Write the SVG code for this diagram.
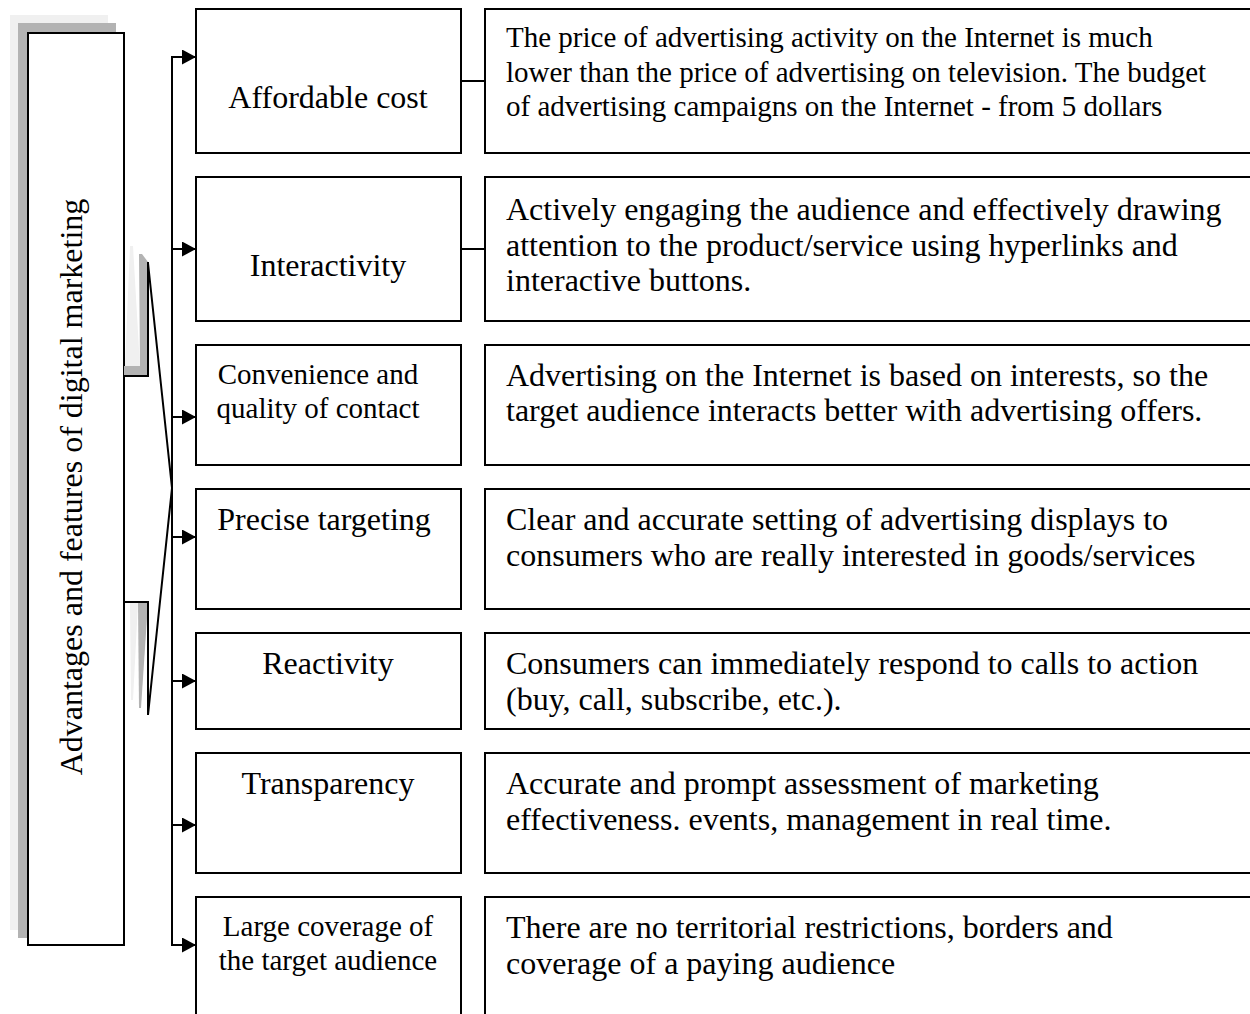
<svg xmlns="http://www.w3.org/2000/svg" width="1250" height="1014" viewBox="0 0 1250 1014">
  <style>
    .box { fill: #ffffff; stroke: #000000; stroke-width: 2; }
    .line { fill: none; stroke: #000000; stroke-width: 2; }
    .t { font-family: "Liberation Serif", "Times New Roman", serif; fill: #000000; }
    .lbl { font-size: 32px; text-anchor: middle; }
    .lbl-s { font-size: 29px; text-anchor: middle; }
    .desc { font-size: 32px; }
    .desc-s { font-size: 29px; }
  </style>
  <defs>
    <marker id="arrow" viewBox="0 0 14 15" refX="14" refY="7.5" markerWidth="14" markerHeight="15" markerUnits="userSpaceOnUse" orient="auto">
      <path d="M0,0 L14,7.5 L0,15 Z" fill="#000000"/>
    </marker>
  </defs>

  <rect width="1250" height="1014" fill="#ffffff"/>

  <!-- Title box with layered shadow -->
  <g id="title">
    <rect x="10" y="15" width="98" height="915" fill="#f0f0f0"/>
    <rect x="18" y="23" width="98" height="915" fill="#b3b3b3"/>
    <rect class="box" x="28" y="33" width="96" height="912"/>
    <text class="t" font-size="32" text-anchor="middle" transform="translate(82,487) rotate(-90)">Advantages and features of digital marketing</text>
  </g>

  <!-- Brace linking the title to the branch line -->
  <g id="brace">
    <polygon points="130,246 133,246 140,366 125,366" fill="#f0f0f0"/>
    <polygon points="139,254 142,254 148,262 148,376 124,376 124,366 140,366" fill="#b3b3b3"/>
    <path class="line" d="M124,376 H148 V262"/>
    <polygon points="130,603 138,603 133,700 131,700" fill="#f0f0f0"/>
    <polygon points="138,603 148,603 141,708 139,708" fill="#b3b3b3"/>
    <path class="line" d="M124,602 H148 V715"/>
    <polyline class="line" points="148,263 172,488 148,715"/>
  </g>

  <!-- Connectors -->
  <g id="connectors">
    <path class="line" d="M196,57 H172 V945 H196" marker-end="url(#arrow)"/>
    <line class="line" x1="172" y1="57" x2="196" y2="57" marker-end="url(#arrow)"/>
    <line class="line" x1="172" y1="249" x2="196" y2="249" marker-end="url(#arrow)"/>
    <line class="line" x1="172" y1="417" x2="196" y2="417" marker-end="url(#arrow)"/>
    <line class="line" x1="172" y1="537" x2="196" y2="537" marker-end="url(#arrow)"/>
    <line class="line" x1="172" y1="681" x2="196" y2="681" marker-end="url(#arrow)"/>
    <line class="line" x1="172" y1="825" x2="196" y2="825" marker-end="url(#arrow)"/>
    <line class="line" x1="461" y1="81" x2="485" y2="81"/>
    <line class="line" x1="461" y1="249" x2="485" y2="249"/>
  </g>

  <!-- Feature boxes -->
  <g id="feature-cost">
    <rect class="box" x="196" y="9" width="265" height="144"/>
    <text class="t lbl" x="328" y="108">Affordable cost</text>
  </g>
  <g id="feature-interactivity">
    <rect class="box" x="196" y="177" width="265" height="144"/>
    <text class="t lbl" x="328" y="276">Interactivity</text>
  </g>
  <g id="feature-convenience">
    <rect class="box" x="196" y="345" width="265" height="120"/>
    <text class="t lbl-s" x="318" y="384">Convenience and</text>
    <text class="t lbl-s" x="318" y="418">quality of contact</text>
  </g>
  <g id="feature-targeting">
    <rect class="box" x="196" y="489" width="265" height="120"/>
    <text class="t lbl" x="324" y="530">Precise targeting</text>
  </g>
  <g id="feature-reactivity">
    <rect class="box" x="196" y="633" width="265" height="96"/>
    <text class="t lbl" x="328" y="674">Reactivity</text>
  </g>
  <g id="feature-transparency">
    <rect class="box" x="196" y="753" width="265" height="120"/>
    <text class="t lbl" x="328" y="794">Transparency</text>
  </g>
  <g id="feature-coverage">
    <rect class="box" x="196" y="897" width="265" height="130"/>
    <text class="t lbl-s" x="328" y="936">Large coverage of</text>
    <text class="t lbl-s" x="328" y="970">the target audience</text>
  </g>

  <!-- Description boxes -->
  <g id="desc-cost">
    <rect class="box" x="485" y="9" width="770" height="144"/>
    <text class="t desc-s" x="506" y="47">The price of advertising activity on the Internet is much</text>
    <text class="t desc-s" x="506" y="82">lower than the price of advertising on television. The budget</text>
    <text class="t desc-s" x="506" y="116">of advertising campaigns on the Internet - from 5 dollars</text>
  </g>
  <g id="desc-interactivity">
    <rect class="box" x="485" y="177" width="770" height="144"/>
    <text class="t desc" x="506" y="220">Actively engaging the audience and effectively drawing</text>
    <text class="t desc" x="506" y="256">attention to the product/service using hyperlinks and</text>
    <text class="t desc" x="506" y="291">interactive buttons.</text>
  </g>
  <g id="desc-convenience">
    <rect class="box" x="485" y="345" width="770" height="120"/>
    <text class="t desc" x="506" y="386">Advertising on the Internet is based on interests, so the</text>
    <text class="t desc" x="506" y="421">target audience interacts better with advertising offers.</text>
  </g>
  <g id="desc-targeting">
    <rect class="box" x="485" y="489" width="770" height="120"/>
    <text class="t desc" x="506" y="530">Clear and accurate setting of advertising displays to</text>
    <text class="t desc" x="506" y="566">consumers who are really interested in goods/services</text>
  </g>
  <g id="desc-reactivity">
    <rect class="box" x="485" y="633" width="770" height="96"/>
    <text class="t desc" x="506" y="674">Consumers can immediately respond to calls to action</text>
    <text class="t desc" x="506" y="710">(buy, call, subscribe, etc.).</text>
  </g>
  <g id="desc-transparency">
    <rect class="box" x="485" y="753" width="770" height="120"/>
    <text class="t desc" x="506" y="794">Accurate and prompt assessment of marketing</text>
    <text class="t desc" x="506" y="830">effectiveness. events, management in real time.</text>
  </g>
  <g id="desc-coverage">
    <rect class="box" x="485" y="897" width="770" height="130"/>
    <text class="t desc" x="506" y="938">There are no territorial restrictions, borders and</text>
    <text class="t desc" x="506" y="974">coverage of a paying audience</text>
  </g>
</svg>
